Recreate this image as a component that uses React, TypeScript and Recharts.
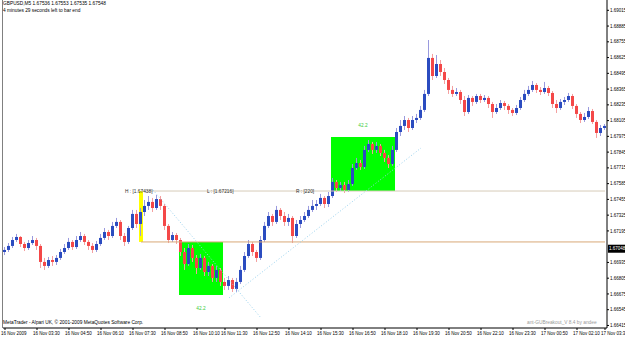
import React from 'react';
import { ComposedChart, Bar, XAxis, YAxis, ReferenceArea, ReferenceLine } from 'recharts';

// GBPUSD M5 candles, [open, high, low, close]
const overnightCandles: number[][] = [
  [1.67021, 1.67062, 1.66996, 1.67038], [1.67038, 1.67095, 1.67021, 1.67071], [1.67071, 1.67145, 1.67054, 1.6712],
  [1.6712, 1.6717, 1.67104, 1.67145], [1.67145, 1.67153, 1.67062, 1.67087], [1.67087, 1.67104, 1.67029, 1.67054],
  [1.67054, 1.6712, 1.67038, 1.67095], [1.67095, 1.67153, 1.67079, 1.6712], [1.6712, 1.67137, 1.67038, 1.67071],
  [1.67071, 1.67087, 1.66889, 1.66939], [1.66939, 1.66972, 1.66873, 1.66906], [1.66906, 1.6698, 1.66889, 1.66955],
  [1.66955, 1.66988, 1.66906, 1.66939], [1.66939, 1.66996, 1.66914, 1.66972], [1.66972, 1.67046, 1.66955, 1.67021],
  [1.67021, 1.67087, 1.67005, 1.67054], [1.67054, 1.67137, 1.67038, 1.67104], [1.67104, 1.6712, 1.67038, 1.67062],
  [1.67062, 1.67153, 1.67046, 1.6712], [1.6712, 1.67186, 1.67104, 1.67153], [1.67153, 1.6717, 1.67079, 1.67104],
  [1.67104, 1.6712, 1.67038, 1.67071], [1.67071, 1.67095, 1.67013, 1.67038], [1.67038, 1.67112, 1.67021, 1.67087],
  [1.67087, 1.6717, 1.67071, 1.67137], [1.67137, 1.67219, 1.6712, 1.67186], [1.67186, 1.67203, 1.6712, 1.67153],
  [1.67153, 1.67269, 1.67137, 1.67236], [1.67236, 1.67302, 1.67219, 1.67269], [1.67269, 1.67285, 1.6712, 1.67153],
  [1.67153, 1.67178, 1.67071, 1.67104], [1.67104, 1.67236, 1.67087, 1.67219], [1.67219, 1.67368, 1.67203, 1.67335],
  [1.67335, 1.67368, 1.67219, 1.67252], [1.67252, 1.67384, 1.67153, 1.67351], [1.67351, 1.6745, 1.67318, 1.67401],
  [1.67401, 1.67483, 1.67368, 1.67434], [1.67434, 1.67467, 1.67351, 1.67384], [1.67384, 1.67491, 1.67368, 1.67458],
  [1.67458, 1.67483, 1.67368, 1.67401], [1.67401, 1.67417, 1.67203, 1.67236], [1.67236, 1.67252, 1.67095, 1.6712],
  [1.6712, 1.67186, 1.67104, 1.67161], [1.67161, 1.67178, 1.67087, 1.6712], [1.6712, 1.67137, 1.66988, 1.67021],
  [1.67021, 1.67054, 1.66873, 1.66922], [1.66922, 1.67087, 1.66906, 1.67054], [1.67054, 1.67079, 1.66939, 1.66972],
  [1.66972, 1.66996, 1.6684, 1.66889], [1.66889, 1.67005, 1.66873, 1.66972],
];

const londonCandles: number[][] = [
  [1.66972, 1.66988, 1.66823, 1.66856], [1.66856, 1.66939, 1.66823, 1.66906], [1.66906, 1.66922, 1.66774, 1.66807],
  [1.66807, 1.66906, 1.66774, 1.66873], [1.66873, 1.66889, 1.66741, 1.66774], [1.66774, 1.66807, 1.66708, 1.66741],
  [1.66741, 1.66823, 1.66708, 1.6679], [1.6679, 1.66807, 1.66691, 1.66716], [1.66716, 1.66807, 1.66691, 1.66774],
  [1.66774, 1.66906, 1.66757, 1.66873], [1.66873, 1.67021, 1.66856, 1.66988], [1.66988, 1.6712, 1.66972, 1.67087],
  [1.67087, 1.67104, 1.66988, 1.67021], [1.67021, 1.67038, 1.66939, 1.66972], [1.66972, 1.67153, 1.66955, 1.6712],
  [1.6712, 1.67269, 1.67104, 1.67236], [1.67236, 1.67351, 1.67219, 1.67318], [1.67318, 1.67335, 1.67236, 1.67269],
  [1.67269, 1.67401, 1.67252, 1.67368], [1.67368, 1.67384, 1.67285, 1.67318], [1.67318, 1.67351, 1.67236, 1.67269],
  [1.67269, 1.67335, 1.67236, 1.67302], [1.67302, 1.67318, 1.67095, 1.67153], [1.67153, 1.67285, 1.67137, 1.67252],
  [1.67252, 1.67318, 1.67219, 1.67285], [1.67285, 1.67351, 1.67269, 1.67318], [1.67318, 1.67401, 1.67302, 1.67368],
  [1.67368, 1.6745, 1.67351, 1.67401], [1.67401, 1.6745, 1.67368, 1.67417], [1.67417, 1.675, 1.67401, 1.67467],
  [1.67467, 1.67483, 1.67384, 1.67417], [1.67417, 1.67516, 1.67392, 1.67483], [1.67483, 1.67632, 1.67467, 1.67599],
  [1.67599, 1.67615, 1.67516, 1.67549], [1.67549, 1.67599, 1.67524, 1.67574], [1.67574, 1.67599, 1.67508, 1.67533],
  [1.67533, 1.67615, 1.67516, 1.67582], [1.67582, 1.67747, 1.67566, 1.67714], [1.67714, 1.67797, 1.67698, 1.67755],
  [1.67755, 1.6778, 1.67698, 1.67722], [1.67722, 1.67896, 1.67706, 1.67863], [1.67863, 1.67945, 1.67846, 1.67912],
  [1.67912, 1.67929, 1.6783, 1.67863], [1.67863, 1.67929, 1.67838, 1.67896], [1.67896, 1.67912, 1.67813, 1.67838],
  [1.67838, 1.67863, 1.67764, 1.67797], [1.67797, 1.67821, 1.67714, 1.67747], [1.67747, 1.67896, 1.67731, 1.67863],
  [1.67863, 1.68044, 1.67846, 1.68011], [1.68011, 1.6811, 1.67978, 1.68061],
];

const newYorkCandles: number[][] = [
  [1.68061, 1.68143, 1.68028, 1.6811], [1.6811, 1.68127, 1.68011, 1.68044], [1.68044, 1.68143, 1.68028, 1.6811],
  [1.6811, 1.6816, 1.68085, 1.68127], [1.68127, 1.68226, 1.6811, 1.68193], [1.68193, 1.68358, 1.68176, 1.68325],
  [1.68325, 1.6877, 1.68308, 1.68622], [1.68622, 1.68655, 1.6844, 1.68473], [1.68473, 1.68646, 1.68457, 1.68572],
  [1.68572, 1.68605, 1.68473, 1.68506], [1.68506, 1.68539, 1.68407, 1.6844], [1.6844, 1.68457, 1.68325, 1.68358],
  [1.68358, 1.68391, 1.683, 1.68325], [1.68325, 1.68374, 1.68308, 1.68341], [1.68341, 1.68358, 1.68242, 1.68275],
  [1.68275, 1.68308, 1.68143, 1.68176], [1.68176, 1.68316, 1.6816, 1.68292], [1.68292, 1.68308, 1.68226, 1.68259],
  [1.68259, 1.68325, 1.68242, 1.68308], [1.68308, 1.68325, 1.6825, 1.68275], [1.68275, 1.68316, 1.68259, 1.68292],
  [1.68292, 1.68308, 1.68209, 1.68242], [1.68242, 1.68259, 1.68127, 1.68176], [1.68176, 1.68242, 1.6816, 1.68209],
  [1.68209, 1.68275, 1.68193, 1.6825], [1.6825, 1.68267, 1.68193, 1.68226], [1.68226, 1.68242, 1.6816, 1.68193],
  [1.68193, 1.68209, 1.68143, 1.68168], [1.68168, 1.68234, 1.68151, 1.68209], [1.68209, 1.683, 1.68193, 1.68275],
  [1.68275, 1.68358, 1.68259, 1.68325], [1.68325, 1.68391, 1.68308, 1.68358], [1.68358, 1.68432, 1.68341, 1.68399],
  [1.68399, 1.68415, 1.68333, 1.68358], [1.68358, 1.68382, 1.68316, 1.68341], [1.68341, 1.68424, 1.68325, 1.68374],
  [1.68374, 1.68391, 1.68308, 1.68333], [1.68333, 1.68349, 1.68209, 1.68242], [1.68242, 1.68275, 1.68168, 1.68209],
  [1.68209, 1.68283, 1.68193, 1.68259], [1.68259, 1.683, 1.68234, 1.68275], [1.68275, 1.68333, 1.68259, 1.68308],
  [1.68308, 1.68325, 1.68201, 1.68226], [1.68226, 1.68242, 1.68127, 1.6816], [1.6816, 1.68176, 1.68085, 1.6811],
  [1.6811, 1.68168, 1.68094, 1.68135], [1.68135, 1.68217, 1.68118, 1.68184], [1.68184, 1.68201, 1.68077, 1.68094],
  [1.68094, 1.6811, 1.67962, 1.68003], [1.68003, 1.68069, 1.67978, 1.68044], [1.68044, 1.68077, 1.68028, 1.68061],
];

const timeLabels = [
  '16 Nov 2009', '16 Nov 03:30', '16 Nov 04:50', '16 Nov 06:10', '16 Nov 07:30', '16 Nov 08:50', '16 Nov 10:10',
  '16 Nov 11:30', '16 Nov 12:50', '16 Nov 14:10', '16 Nov 15:30', '16 Nov 16:50', '16 Nov 18:10', '16 Nov 19:30',
  '16 Nov 20:50', '16 Nov 22:10', '16 Nov 23:30', '17 Nov 00:50', '17 Nov 02:10', '17 Nov 03:30',
];
const timeTickBars = [0, 8, 16, 24, 32, 40, 48, 55, 63, 71, 79, 87, 95, 103, 111, 119, 127, 135, 143, 150];

const priceTicks = [
  1.69015, 1.68885, 1.68755, 1.68625, 1.68495, 1.68365, 1.68235, 1.68105, 1.67975, 1.67845,
  1.67715, 1.67585, 1.67455, 1.67325, 1.67195, 1.66935, 1.66805, 1.66675, 1.66545, 1.66415,
];
const priceDomain = [1.66394, 1.691];
const bidPrice = 1.67048;

// breakout indicator levels
const boxHigh = 1.67524;
const boxLow = 1.67104;
const boxBar = 34;
const hText = 'H : [1.67438]';
const lText = 'L : [1.67216]';
const rText = 'R : [220]';
const targetDown = { from: 44, to: 54, top: 1.67104, bottom: 1.66666, text: '42.2' };
const targetUp = { from: 82, to: 97, top: 1.6797, bottom: 1.67524, text: '42.2' };
const trendDown = [{ x: 37, y: 1.67533 }, { x: 64, y: 1.66477 }];
const trendUp = [{ x: 56, y: 1.66642 }, { x: 104, y: 1.67879 }];

const headerLine = 'GBPUSD,M5  1.67536 1.67553 1.67535 1.67548';
const timerLine = '4 minutes 29 seconds left to bar end';
const copyright = 'MetaTrader - Alpari UK, © 2001-2009 MetaQuotes Software Corp.';
const signature = 'ant-GUBreakout_V 8.4 by andee';

const font = '"Liberation Sans", Arial, sans-serif';
const fs = 4.8;
const axisFs = 4.5;

const data = [...overnightCandles, ...londonCandles, ...newYorkCandles].map((c, i) => ({
  i,
  open: c[0],
  high: c[1],
  low: c[2],
  close: c[3],
}));

const Candle = (props: any) => {
  const { x, y, height, payload } = props;
  if (!payload) return null;
  const { open, high, low, close } = payload;
  const span = high - low || 1e-9;
  const toY = (p: number) => y + ((high - p) / span) * height;
  const up = close >= open;
  const top = toY(Math.max(open, close));
  const bot = toY(Math.min(open, close));
  const left = Math.round(x);
  return (
    <g>
      <rect x={left + 1} y={y} width={1} height={Math.max(height, 1)} fill={up ? '#9a9ade' : '#f4a0a0'} />
      <rect x={left} y={top} width={3} height={Math.max(bot - top, 1)} fill={up ? '#2b4cc0' : '#f44848'} />
    </g>
  );
};

const TimeTick = ({ x, y, payload }: any) => {
  const k = timeTickBars.indexOf(payload.value);
  return (
    <text x={x - 4} y={y + 3} fontSize={axisFs} fontFamily={font} fill="#000">
      {timeLabels[k]}
    </text>
  );
};

const PriceTick = ({ x, y, payload }: any) => (
  <text x={x} y={y + 1.6} fontSize={axisFs} fontFamily={font} fill="#000">
    {payload.value.toFixed(5)}
  </text>
);

const BoxLabels = ({ viewBox }: any) => {
  if (!viewBox) return null;
  const { x, y } = viewBox;
  return (
    <g fontSize={fs} fontFamily={font} fill="#303030">
      <text x={x - 16} y={y + 2}>{hText}</text>
      <text x={x + 66} y={y + 2}>{lText}</text>
      <text x={x + 155} y={y + 2}>{rText}</text>
    </g>
  );
};

const targetLabel = (above: boolean, text: string) => ({ viewBox }: any) => {
  if (!viewBox) return null;
  const { x, y, width, height } = viewBox;
  return (
    <text
      x={x + width / 2}
      y={above ? y - 10 : y + height + 15}
      textAnchor="middle"
      fontSize={fs}
      fontFamily={font}
      fill="#3ccc3c"
    >
      {text}
    </text>
  );
};

const BidLabel = ({ viewBox }: any) => {
  if (!viewBox) return null;
  const { x, y, width } = viewBox;
  return (
    <g>
      <rect x={x + width + 1} y={y - 4} width={18} height={8} fill="#000" />
      <text x={x + width + 2} y={y + 1.6} fontSize={axisFs} fontFamily={font} fill="#fff">
        {bidPrice.toFixed(5)}
      </text>
    </g>
  );
};

const textStyle: React.CSSProperties = {
  position: 'absolute',
  fontFamily: font,
  fontSize: fs,
  lineHeight: 1,
  whiteSpace: 'nowrap',
};

export default function App() {
  return (
    <div style={{ position: 'absolute', left: 0, top: 0, width: 625, height: 337, background: '#fff', overflow: 'hidden' }}>
      <ComposedChart
        width={625}
        height={337}
        data={data}
        margin={{ top: 0, right: 0, bottom: 0, left: 3 }}
        barCategoryGap={0}
        barGap={0}
      >
        <XAxis
          dataKey="i"
          type="category"
          ticks={timeTickBars}
          interval={0}
          height={9}
          tickSize={2}
          tick={<TimeTick />}
          axisLine={{ stroke: '#000' }}
          tickLine={{ stroke: '#000' }}
        />
        <YAxis
          orientation="right"
          type="number"
          domain={priceDomain}
          allowDataOverflow
          ticks={priceTicks}
          interval={0}
          width={18}
          tickSize={2}
          tickMargin={1}
          tick={<PriceTick />}
          axisLine={{ stroke: '#000' }}
          tickLine={{ stroke: '#000' }}
        />
        <ReferenceArea x1={targetDown.from} x2={targetDown.to} y1={targetDown.bottom} y2={targetDown.top}
          fill="#00ff00" fillOpacity={1} stroke="none" label={targetLabel(false, targetDown.text)} />
        <ReferenceArea x1={targetUp.from} x2={targetUp.to} y1={targetUp.bottom} y2={targetUp.top}
          fill="#00ff00" fillOpacity={1} stroke="none" label={targetLabel(true, targetUp.text)} />
        <ReferenceArea x1={boxBar} x2={boxBar} y1={boxLow} y2={boxHigh} fill="#ffff00" fillOpacity={1} stroke="none" />
        <ReferenceLine segment={[{ x: boxBar, y: boxHigh }, { x: data.length - 1, y: boxHigh }]}
          stroke="#d6cbb8" strokeWidth={1} label={<BoxLabels />} />
        <ReferenceLine segment={[{ x: boxBar, y: boxLow }, { x: data.length - 1, y: boxLow }]}
          stroke="#d8a878" strokeWidth={1} />
        <ReferenceLine segment={trendDown} stroke="#9ad2ee" strokeDasharray="1 2" strokeWidth={1} />
        <ReferenceLine segment={trendUp} stroke="#9ad2ee" strokeDasharray="1 2" strokeWidth={1} />
        <Bar dataKey={(d: any) => [d.low, d.high]} shape={<Candle />} isAnimationActive={false} />
        <ReferenceLine y={bidPrice} stroke="none" label={<BidLabel />} />
      </ComposedChart>
      <div style={{ position: 'absolute', left: 2, top: 0, width: 1, height: 328, background: '#808080' }} />
      <div style={{ ...textStyle, left: 3, top: 2 }}>{headerLine}</div>
      <div style={{ ...textStyle, left: 3, top: 9 }}>{timerLine}</div>
      <div style={{ ...textStyle, left: 3, top: 321 }}>{copyright}</div>
      <div style={{ ...textStyle, left: 527, top: 321, color: '#9a9a9a' }}>{signature}</div>
    </div>
  );
}
